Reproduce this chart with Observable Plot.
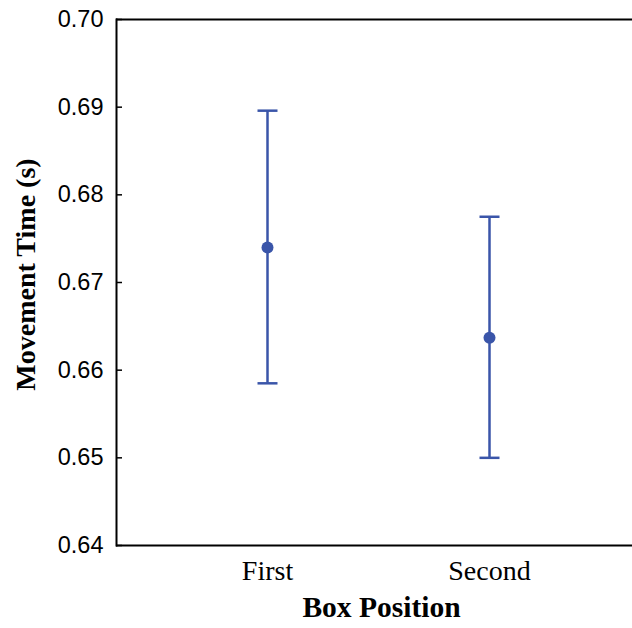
<!DOCTYPE html>
<html>
<head>
<meta charset="utf-8">
<script src="https://cdn.jsdelivr.net/npm/d3@7"></script>
<script src="https://cdn.jsdelivr.net/npm/@observablehq/plot@0.6"></script>
<style>
  html, body { margin: 0; padding: 0; background: #fff; }
</style>
</head>
<body>
<div id="chart"></div>
<script>
const positions = ["First", "Second"];
const means = [0.6740, 0.6637];
const upper = [0.6896, 0.6775];
const lower = [0.6585, 0.6500];
const yTicks = [0.64, 0.65, 0.66, 0.67, 0.68, 0.69, 0.70];
const xTitle = "Box Position";
const yTitle = "Movement Time (s)";

const data = positions.map((p, i) => ({pos: p, mean: means[i], hi: upper[i], lo: lower[i]}));
const blue = "#3a55a9";

const capSymbol = {
  draw(context, size) {
    const w = Math.sqrt(size / Math.PI);
    context.moveTo(-w, 0);
    context.lineTo(w, 0);
  }
};

const chart = Plot.plot({
  width: 632,
  height: 628,
  marginTop: 19,
  marginBottom: 83,
  marginLeft: 116,
  marginRight: 0,
  style: {fontFamily: "Liberation Serif", background: "#fff", color: "#000"},
  x: {type: "point", domain: positions, padding: 0.657, align: 0.515},
  y: {domain: [0.64, 0.70]},
  marks: [
    Plot.ruleY([0.64, 0.70], {stroke: "#000", strokeWidth: 2}),
    Plot.frame({anchor: "left", stroke: "#000", strokeWidth: 2}),
    Plot.axisY({ticks: yTicks, tickFormat: d3.format(".2f"), tickSize: -6, tickPadding: 19, fontFamily: "Liberation Sans", fontSize: 23.5, label: null, stroke: "#000", strokeWidth: 1.5}),
    Plot.axisX({tickSize: 0, tickPadding: 15, fontSize: 28, fontFamily: "Liberation Serif", label: null}),
    Plot.ruleX(data, {x: "pos", y1: "lo", y2: "hi", stroke: blue, strokeWidth: 2.5}),
    Plot.dot(data, {x: "pos", y: "hi", symbol: capSymbol, r: 10, stroke: blue, strokeWidth: 2.5, fill: "none"}),
    Plot.dot(data, {x: "pos", y: "lo", symbol: capSymbol, r: 10, stroke: blue, strokeWidth: 2.5, fill: "none"}),
    Plot.dot(data, {x: "pos", y: "mean", r: 6, fill: blue, stroke: "none"}),
    Plot.text([xTitle], {text: d => d, frameAnchor: "bottom", textAnchor: "middle", dx: 7, dy: 71, fontSize: 29.5, fontWeight: "bold", fontFamily: "Liberation Serif", fill: "#000"}),
    Plot.text([yTitle], {text: d => d, frameAnchor: "left", textAnchor: "middle", dx: -90, dy: -8, rotate: -90, fontSize: 28, fontWeight: "bold", fontFamily: "Liberation Serif", fill: "#000"})
  ]
});
document.getElementById("chart").appendChild(chart);
</script>
</body>
</html>
